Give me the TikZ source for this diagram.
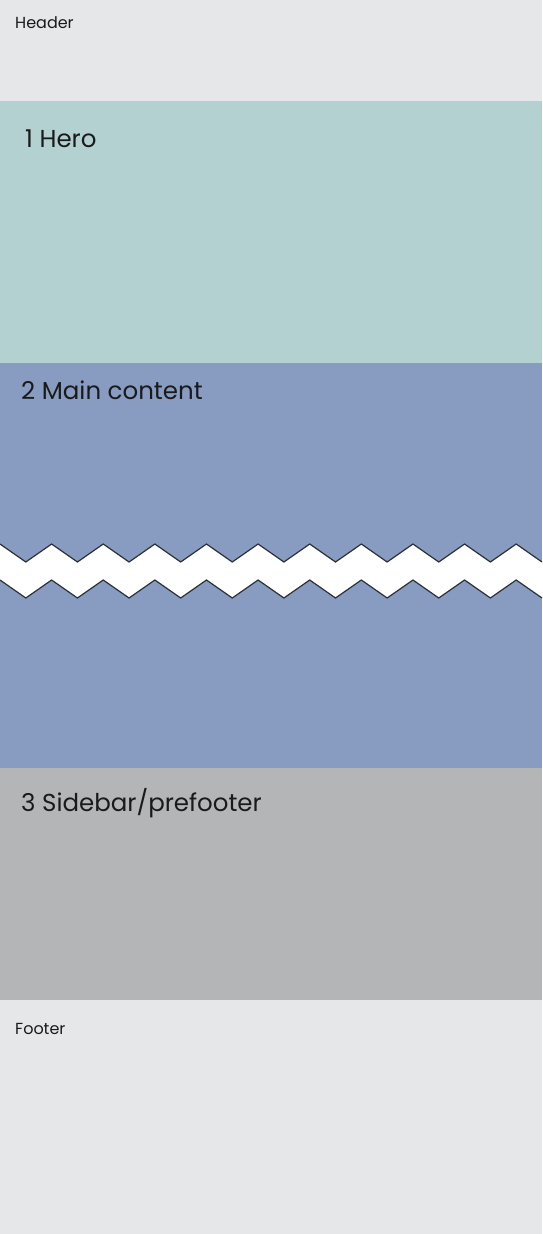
\documentclass[tikz,border=0pt]{standalone}
\usepackage{fontspec}
\setmainfont{Poppins}
\usetikzlibrary{positioning}
\definecolor{ink}{HTML}{1A1A1A}
\definecolor{line}{HTML}{2B2F36}
\definecolor{chromefill}{HTML}{E6E7E9}
\definecolor{herofill}{HTML}{B3D1D1}
\definecolor{mainfill}{HTML}{879CC0}
\definecolor{sidefill}{HTML}{B4B5B7}

\begin{document}
\begin{tikzpicture}[
  x=1pt,
  y=-1pt,
  text=ink,
  band/.style={fill=#1},
  small/.style={font=\fontsize{16}{19}\selectfont, anchor=base west, inner sep=0pt},
  big/.style={font=\fontsize{24.5}{29}\selectfont, anchor=base west, inner sep=0pt},
  zigzag/.style={draw=line, line width=1.2pt, line join=miter}
]
\useasboundingbox (0,0) rectangle (542,1234);

% Page bands
\fill[band=chromefill] (0,0) rectangle (542,101);
\fill[band=herofill] (0,101) rectangle (542,363.3);
\fill[band=mainfill] (0,363.3) rectangle (542,768.3);
\fill[band=sidefill] (0,768.3) rectangle (542,1000);
\fill[band=chromefill] (0,1000) rectangle (542,1234);

% Break in the main content
\fill[white] plot[samples at={0,...,21}] ({\x*542/21},{544+18*mod(\x,2)})
  -- plot[samples at={21,20,...,0}] ({\x*542/21},{580+18*mod(\x,2)}) -- cycle;
\draw[zigzag] plot[samples at={0,...,21}] ({\x*542/21},{544+18*mod(\x,2)});
\draw[zigzag] plot[samples at={0,...,21}] ({\x*542/21},{580+18*mod(\x,2)});

% Labels
\node[small] (header) at (15,28.3) {Header};
\node[big] (hero) at (25,147.7) {1 Hero};
\node[big] (main) at (21,399.5) {2 Main content};
\node[big] (sidebar) at (21,811.7) {3 Sidebar/prefooter};
\node[small] (footer) at (15,1034.3) {Footer};

\end{tikzpicture}
\end{document}
